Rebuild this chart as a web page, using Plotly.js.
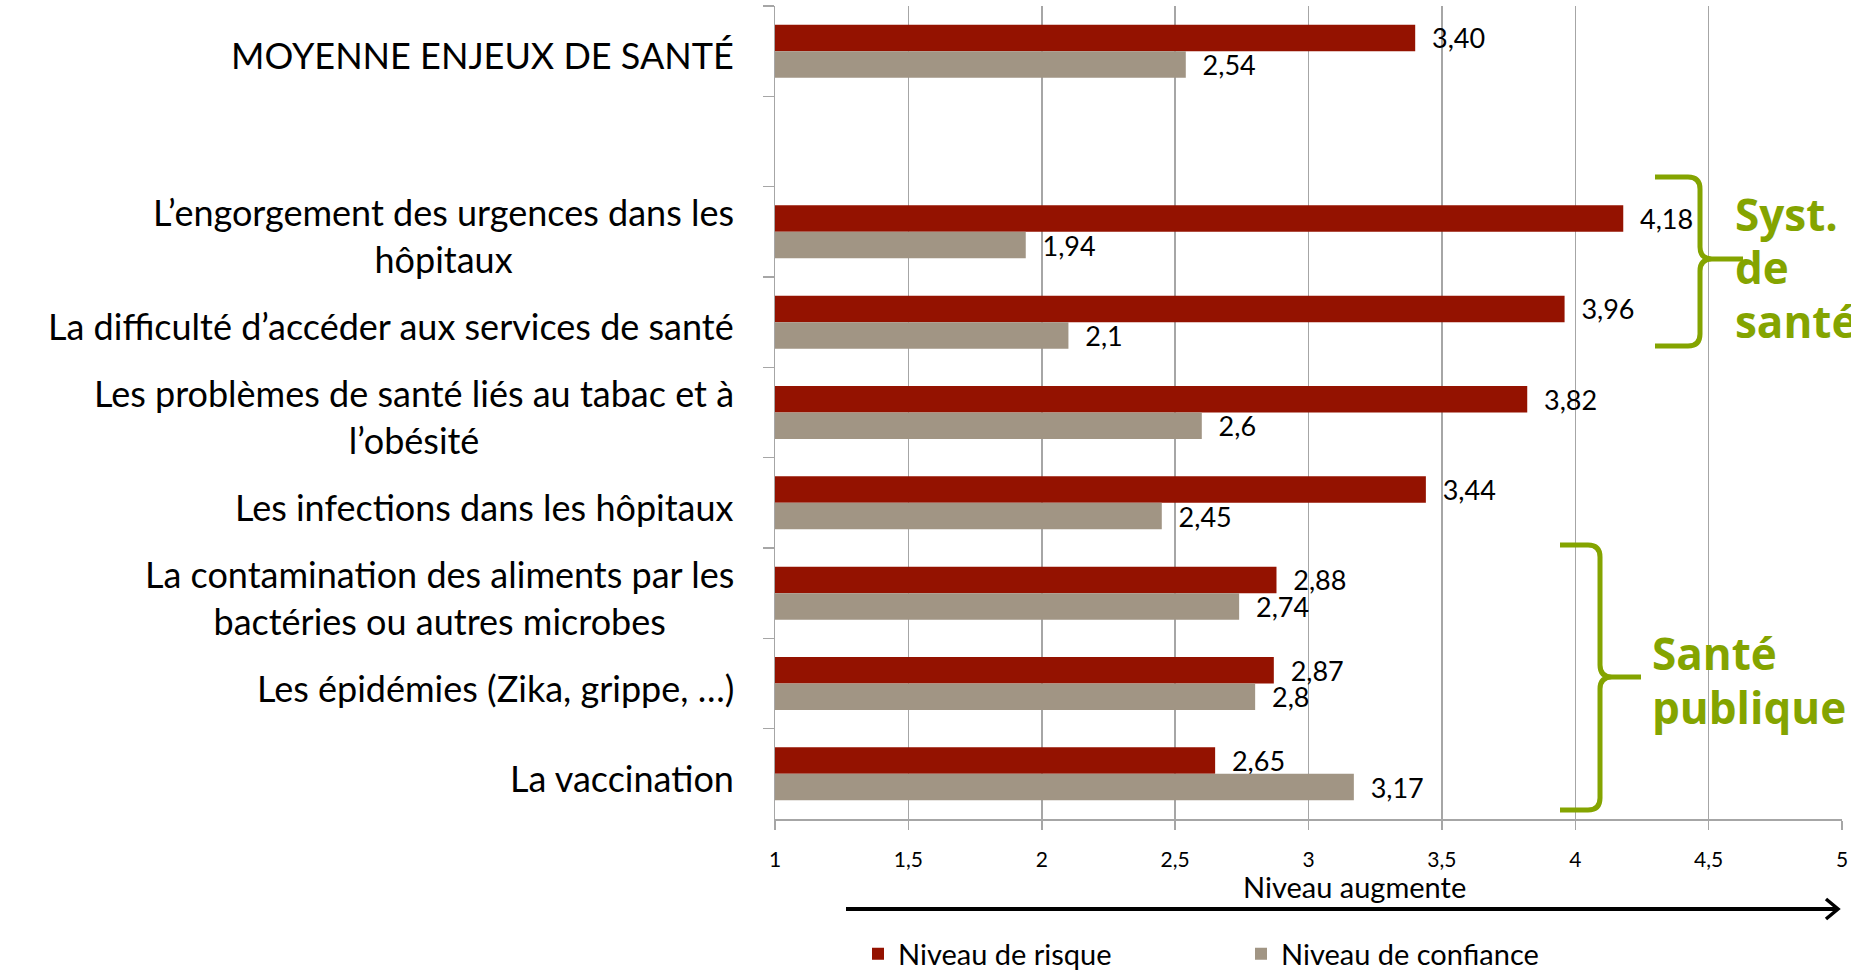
<!DOCTYPE html>
<html>
<head>
<meta charset="utf-8">
<script src="https://cdn.plot.ly/plotly-3.0.1.min.js"></script>
<style>
  html, body { margin: 0; padding: 0; background: #ffffff; }
  #chart { width: 1851px; height: 970px; }
</style>
</head>
<body>
<div id="chart"></div>
<script>
// ---- Data ----
const categories = [
  "MOYENNE ENJEUX DE SANTÉ",
  " ",
  "L’engorgement des urgences dans les<br>hôpitaux",
  "La difficulté d’accéder aux services de santé",
  "Les problèmes de santé liés au tabac et à<br>l’obésité",
  "Les infections dans les hôpitaux",
  "La contamination des aliments par les<br>bactéries ou autres microbes",
  "Les épidémies (Zika, grippe, …)",
  "La vaccination"
];
const risqueValues = [3.40, null, 4.18, 3.96, 3.82, 3.44, 2.88, 2.87, 2.65];
const risqueLabels = ["3,40", "", "4,18", "3,96", "3,82", "3,44", "2,88", "2,87", "2,65"];
const confianceValues = [2.54, null, 1.94, 2.1, 2.6, 2.45, 2.74, 2.8, 3.17];
const confianceLabels = ["2,54", "", "1,94", "2,1", "2,6", "2,45", "2,74", "2,8", "3,17"];
const seriesNames = ["Niveau de risque", "Niveau de confiance"];
const tickValues = [1, 1.5, 2, 2.5, 3, 3.5, 4, 4.5, 5];
const axisTitle = "Niveau augmente";
const groupLabels = [["Syst.", "de", "santé"], ["Santé", "publique"]];

// ---- Layout geometry (pixels) ----
const L = 775, R = 1842, T = 6, B = 819;
const W = R - L, H = B - T;
const px = x => (x - L) / W;
const py = y => (B - y) / H;
const pt = (x, y) => px(x).toFixed(5) + "," + py(y).toFixed(5);

const RED = "#941200";
const GREY = "#a19584";
const GREEN = "#84a400";
const FONT = "Lato, 'Open Sans', sans-serif";
const pad = s => s ? "\u00a0\u00a0" + s : "";

const traces = [
  {
    type: "bar", orientation: "h", name: seriesNames[0],
    y: categories, x: risqueValues,
    text: risqueLabels.map(pad), textposition: "outside", constraintext: "none",
    textfont: {family: FONT, size: 27, color: "#000"},
    marker: {color: RED}, cliponaxis: false, hoverinfo: "x+y"
  },
  {
    type: "bar", orientation: "h", name: seriesNames[1],
    y: categories, x: confianceValues,
    text: confianceLabels.map(pad), textposition: "outside", constraintext: "none",
    textfont: {family: FONT, size: 27, color: "#000"},
    marker: {color: GREY}, cliponaxis: false, hoverinfo: "x+y"
  }
];

// Category labels as centered annotations
const annotations = categories.filter(c => c.trim() !== "").map(c => ({
  xref: "paper", yref: "y", x: px(736), y: c, yshift: -4,
  xanchor: "right", yanchor: "middle", align: "center",
  text: c, showarrow: false,
  font: {family: FONT, size: 36, color: "#000"}
}));

annotations.push({
  xref: "paper", yref: "paper", x: px(1354), y: py(886),
  xanchor: "center", yanchor: "middle",
  text: axisTitle, showarrow: false,
  font: {family: FONT, size: 29, color: "#000"}
});

// Group labels
const g1y = [214, 267, 321];
groupLabels[0].forEach((t, i) => annotations.push({
  xref: "paper", yref: "paper", x: px(1733), y: py(g1y[i]),
  xanchor: "left", yanchor: "middle", text: "<b>" + t + "</b>", showarrow: false,
  font: {family: "'Open Sans', sans-serif", size: 44, color: GREEN}
}));
const g2y = [653, 707];
groupLabels[1].forEach((t, i) => annotations.push({
  xref: "paper", yref: "paper", x: px(1650), y: py(g2y[i]),
  xanchor: "left", yanchor: "middle", text: "<b>" + t + "</b>", showarrow: false,
  font: {family: "'Open Sans', sans-serif", size: 44, color: GREEN}
}));

function bracket(xl, xv, xp, yt, ym, yb) {
  const r = 12;
  return "M" + pt(xl, yt) + " L" + pt(xv - r, yt) +
    " Q" + pt(xv, yt) + " " + pt(xv, yt + r) +
    " L" + pt(xv, ym - r) + " Q" + pt(xv, ym) + " " + pt(xv + r, ym) +
    " L" + pt(xp, ym) +
    " M" + pt(xv + r, ym) + " Q" + pt(xv, ym) + " " + pt(xv, ym + r) +
    " L" + pt(xv, yb - r) + " Q" + pt(xv, yb) + " " + pt(xv - r, yb) +
    " L" + pt(xl, yb);
}

const shapes = [
  {type: "path", xref: "paper", yref: "paper", path: bracket(1655, 1700, 1743, 177, 259, 346),
   line: {color: GREEN, width: 5}},
  {type: "path", xref: "paper", yref: "paper", path: bracket(1560, 1600, 1641, 545, 677, 810),
   line: {color: GREEN, width: 5}},
  // arrow
  {type: "line", xref: "paper", yref: "paper", x0: px(846), x1: px(1836), y0: py(909), y1: py(909),
   line: {color: "#000", width: 4}},
  {type: "path", xref: "paper", yref: "paper",
   path: "M" + pt(1826, 899) + " L" + pt(1838, 909) + " L" + pt(1826, 919),
   line: {color: "#000", width: 3.5}}
];

const layout = {
  width: 1851, height: 970,
  margin: {l: L, r: 1851 - R, t: T, b: 970 - B, autoexpand: false},
  paper_bgcolor: "#fff", plot_bgcolor: "#fff",
  separators: ", ",
  barmode: "group", bargap: 0.414, bargroupgap: 0,
  font: {family: FONT, color: "#000"},
  xaxis: {
    range: [1, 5], tickvals: tickValues, showgrid: true,
    gridcolor: "#a6a6a6", gridwidth: 1.5,
    showline: true, linecolor: "#a6a6a6", linewidth: 1.5,
    ticks: "outside", ticklen: 9, tickcolor: "#a6a6a6", tickwidth: 1.5,
    tickfont: {family: FONT, size: 21, color: "#000"},
    ticklabelstandoff: 12, zeroline: false, fixedrange: true, automargin: false
  },
  yaxis: {
    type: "category", categoryorder: "array", categoryarray: categories,
    autorange: "reversed", showticklabels: false,
    showline: true, linecolor: "#a6a6a6", linewidth: 1.5,
    ticks: "outside", tickson: "boundaries", ticklen: 11, tickcolor: "#a6a6a6", tickwidth: 1.5,
    showgrid: false, zeroline: false, fixedrange: true, automargin: false
  },
  showlegend: true,
  legend: {
    orientation: "h", xref: "container", yref: "container",
    x: 858 / 1851, y: (970 - 954) / 970, xanchor: "left", yanchor: "middle",
    font: {family: FONT, size: 29, color: "#000"},
    entrywidth: 338, entrywidthmode: "pixels", traceorder: "normal",
    bgcolor: "rgba(0,0,0,0)"
  },
  annotations: annotations,
  shapes: shapes
};

Plotly.newPlot("chart", traces, layout, {displayModeBar: false, staticPlot: true});
</script>
</body>
</html>
